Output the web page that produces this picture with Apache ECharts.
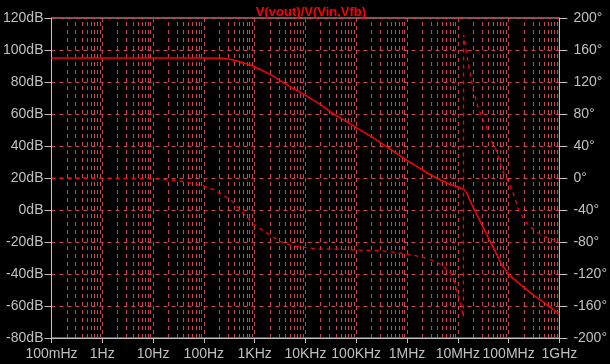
<!DOCTYPE html>
<html>
<head>
<meta charset="utf-8">
<script src="https://cdn.jsdelivr.net/npm/echarts@6/dist/echarts.min.js"></script>
<style>
  html, body { margin: 0; padding: 0; background: #000; }
  #chart { width: 610px; height: 364px; }
</style>
</head>
<body>
<div id="chart"></div>
<script>
'use strict';
// frequency labels, one per decade
var freqLabels = ['100mHz', '1Hz', '10Hz', '100Hz', '1KHz', '10KHz', '100KHz', '1MHz', '10MHz', '100MHz', '1GHz'];

// magnitude (dB)
var magFreq = [0.1, 1, 10, 33.8, 100, 239, 376, 590, 927, 1455, 2290, 3590, 5640, 10300, 18800, 34300, 62800,
  114600, 209000, 282000, 1000000, 2700000, 4240000, 6660000, 10500000, 13100000, 15200000, 17700000,
  22200000, 29900000, 40500000, 54800000, 73900000, 88000000, 100000000, 115000000, 135000000, 212000000, 334000000,
  525000000, 955000000, 1000000000];
var magDb = [95, 95, 95, 95, 95, 94.8, 93.8, 92, 90, 87, 83.8, 79.8, 76, 71.5, 66.3, 60.4, 55.6,
  50.4, 45.4, 42.7, 31, 22.5, 19.2, 16.3, 14.2, 12.9, 10.4, 5.2,
  -1, -9.4, -17.7, -26, -34.4, -37.6, -40, -42, -43.8, -49, -54,
  -58.3, -64.6, -65];

// phase (degrees), wraps at +/-180 near 13MHz
var phaseFreq = [0.1, 1, 10, 29.2, 60.8, 95.5, 150, 236, 371, 508, 687, 914, 1250, 1970, 3090, 5560, 10500,
  18800, 46400, 100000, 328000, 1250000, 2700000, 4920000, 7190000, 8360000, 9690000, 11300000, 12100000,
  12900000, 13000000, 13700000, 15000000, 16300000, 18300000, 20300000, 21900000, 25400000, 31800000,
  36300000, 42900000, 49700000, 56900000, 62300000, 71300000, 83800000, 100000000, 126000000, 158000000,
  214000000, 339000000, 525000000, 839000000, 1000000000];
var phaseDeg = [0, 0, -1, -3, -6.7, -9.6, -14, -21, -29.6, -39, -48, -57, -63, -71, -79, -85, -87,
  -89, -89, -90, -91, -96, -101, -109, -119, -127.5, -144, -157, -165,
  -174, 179, 171, 154, 141, 125, 108, 102, 87, 72.5,
  64, 51.6, 41, 35, 26.6, 14, 3, -4.6, -21, -40,
  -54.6, -67, -74, -78, -80];

function zip(xs, ys) {
    var out = [];
    for (var i = 0; i < xs.length; i++) out.push([xs[i], ys[i]]);
    return out;
}

// minor vertical grid lines (2..9 per decade)
var minorLines = [];
for (var k = -1; k < 9; k++) {
    for (var m = 2; m <= 9; m++) {
        minorLines.push({xAxis: m * Math.pow(10, k)});
    }
}

var gridColor = '#c8464b';
var textColor = '#c0c0c0';
var font = 'Liberation Sans, Arial, sans-serif';

var myChart = echarts.init(document.getElementById('chart'), null, {renderer: 'canvas'});
var option = {
    backgroundColor: '#000',
    animation: false,
    title: {
        text: 'V(vout)/V(Vin,Vfb)',
        left: 306,
        textAlign: 'center',
        top: 1,
        textStyle: {color: '#ff0000', fontSize: 13, fontWeight: 'bold', fontFamily: font}
    },
    grid: {
        left: 51, right: 49, top: 18, bottom: 26,
        show: true, borderColor: textColor, borderWidth: 1,
        containLabel: false
    },
    xAxis: {
        type: 'log',
        logBase: 10,
        min: 0.1,
        max: 1e9,
        splitNumber: 10,
        axisLine: {onZero: false, lineStyle: {color: textColor}},
        axisTick: {show: true, length: 5, lineStyle: {color: textColor}},
        axisLabel: {
            color: textColor, fontSize: 14, fontFamily: font, margin: 9,
            formatter: function (v) {
                var i = Math.round(Math.log10(v)) + 1;
                return freqLabels[i] || '';
            }
        },
        splitLine: {show: true, lineStyle: {color: gridColor, type: [4, 4], width: 1}}
    },
    yAxis: [
        {
            type: 'value',
            min: -80, max: 120, interval: 20,
            axisLine: {show: true, lineStyle: {color: textColor}},
            axisTick: {show: true, length: 7, lineStyle: {color: textColor}},
            axisLabel: {color: textColor, fontSize: 14, fontFamily: font, margin: 8, formatter: '{value}dB'},
            splitLine: {show: true, lineStyle: {color: gridColor, type: [4, 4], width: 1}}
        },
        {
            type: 'value',
            min: -200, max: 200, interval: 40,
            position: 'right',
            axisLine: {show: true, lineStyle: {color: textColor}},
            axisTick: {show: true, length: 8, lineStyle: {color: textColor}},
            axisLabel: {color: textColor, fontSize: 14, fontFamily: font, margin: 14, formatter: '{value}°'},
            splitLine: {show: false}
        }
    ],
    series: [
        {
            name: 'minor grid',
            type: 'line',
            data: [],
            silent: true,
            markLine: {
                silent: true,
                symbol: 'none',
                label: {show: false},
                lineStyle: {color: gridColor, type: [4, 4], width: 1},
                data: minorLines
            }
        },
        {
            name: 'magnitude',
            type: 'line',
            yAxisIndex: 0,
            data: zip(magFreq, magDb),
            showSymbol: false,
            lineStyle: {color: '#ff0000', width: 1.5},
            z: 5
        },
        {
            name: 'phase',
            type: 'line',
            yAxisIndex: 1,
            data: zip(phaseFreq, phaseDeg),
            showSymbol: false,
            lineStyle: {color: '#ff0000', width: 1.3, type: [4, 4]},
            z: 5
        }
    ]
};
myChart.setOption(option);
</script>
</body>
</html>
